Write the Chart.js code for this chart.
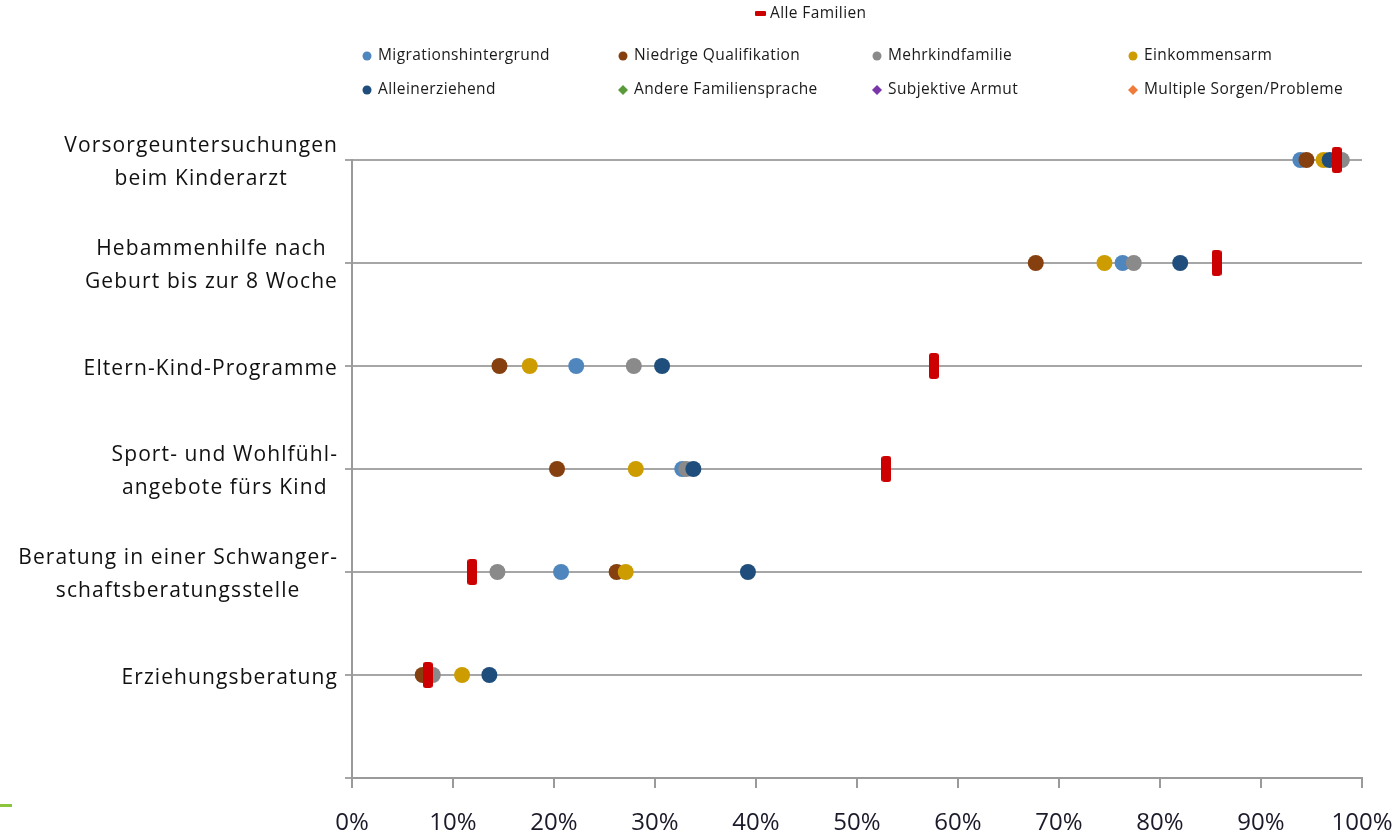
<!DOCTYPE html>
<html><head><meta charset="utf-8">
<script src="https://cdn.jsdelivr.net/npm/chart.js@4/dist/chart.umd.min.js"></script>
<style>
html,body{margin:0;padding:0;background:#fff;overflow:hidden}
#wrap{position:relative;width:1396px;height:835px}
#deco{position:absolute;left:0;top:804px;width:12px;height:3px;background:#8cc43c}
</style></head><body>
<div id="wrap"><canvas id="c" width="1396" height="835"></canvas><div id="deco"></div></div>
<script>
// ---- data ----
const categories = [
  ["Vorsorgeuntersuchungen", "beim Kinderarzt"],
  ["Hebammenhilfe nach", "Geburt bis zur 8 Woche"],
  ["Eltern-Kind-Programme"],
  ["Sport- und Wohlfühl-", "angebote fürs Kind"],
  ["Beratung in einer Schwanger-", "schaftsberatungsstelle"],
  ["Erziehungsberatung"]
];
const xTickValues = [0, 10, 20, 30, 40, 50, 60, 70, 80, 90, 100];
const xTickLabels = ["0%", "10%", "20%", "30%", "40%", "50%", "60%", "70%", "80%", "90%", "100%"];

const alleFamilien          = [97.5, 85.6, 57.6, 52.9, 11.9, 7.5];
const migrationshintergrund = [93.9, 76.3, 22.2, 32.7, 20.7, 7.5];
const niedrigeQualifikation = [94.5, 67.7, 14.6, 20.3, 26.2, 7.0];
const mehrkindfamilie       = [98.0, 77.4, 27.9, 33.1, 14.4, 8.0];
const einkommensarm         = [96.2, 74.5, 17.6, 28.1, 27.1, 10.9];
const alleinerziehend       = [96.8, 82.0, 30.7, 33.8, 39.2, 13.6];
const andereFamiliensprache = [null, null, null, null, null, null];
const subjektiveArmut       = [null, null, null, null, null, null];
const multipleSorgen        = [null, null, null, null, null, null];

// ---- series styling ----
const series = [
  {label: "Alle Familien", values: alleFamilien, color: "#cc0000", shape: "bar", order: 0},
  {label: "Migrationshintergrund", values: migrationshintergrund, color: "#4f86be", shape: "circle", order: 5},
  {label: "Niedrige Qualifikation", values: niedrigeQualifikation, color: "#86400f", shape: "circle", order: 4},
  {label: "Mehrkindfamilie", values: mehrkindfamilie, color: "#8a8a8a", shape: "circle", order: 3},
  {label: "Einkommensarm", values: einkommensarm, color: "#cc9c00", shape: "circle", order: 2},
  {label: "Alleinerziehend", values: alleinerziehend, color: "#1f4e7c", shape: "circle", order: 1},
  {label: "Andere Familiensprache", values: andereFamiliensprache, color: "#5b9a3a", shape: "diamond", order: 6},
  {label: "Subjektive Armut", values: subjektiveArmut, color: "#7a35a8", shape: "diamond", order: 7},
  {label: "Multiple Sorgen/Probleme", values: multipleSorgen, color: "#f07c3c", shape: "diamond", order: 8}
];

// legend layout (positions)
const legendSlots = [
  {x: 760, y: 14},
  {x: 367, y: 56}, {x: 623, y: 56}, {x: 877, y: 56}, {x: 1133, y: 56},
  {x: 367, y: 90}, {x: 623, y: 90}, {x: 877, y: 90}, {x: 1133, y: 90}
];

function barMarker(color, w, h, r) {
  const c = document.createElement('canvas');
  c.width = w; c.height = h;
  const g = c.getContext('2d');
  g.fillStyle = color;
  g.beginPath();
  g.roundRect(0, 0, w, h, r);
  g.fill();
  return c;
}

const N = categories.length;
const datasets = series.map(s => ({
  label: s.label,
  data: s.values.map((v, i) => v === null ? null : {x: v, y: N - i}).filter(p => p !== null),
  backgroundColor: s.color,
  borderWidth: 0,
  pointStyle: s.shape === 'bar' ? barMarker(s.color, 10, 26, 3) : (s.shape === 'diamond' ? 'rectRot' : 'circle'),
  pointRadius: s.shape === 'bar' ? 13 : 8,
  showLine: false,
  clip: false,
  order: s.order,
  _shape: s.shape
}));

const FONT = "'Open Sans', 'DejaVu Sans', sans-serif";

const catLabelPlugin = {
  id: 'catLabels',
  afterDraw(chart) {
    const ctx = chart.ctx, ys = chart.scales.y;
    ctx.save();
    ctx.font = "21px " + FONT;
    ctx.fillStyle = '#111';
    ctx.textBaseline = 'middle';
    ctx.textAlign = 'center';
    try { ctx.letterSpacing = '1.1px'; } catch (e) {}
    const right = 338, lh = 33;
    categories.forEach((lines, i) => {
      const py = ys.getPixelForValue(N - i);
      const w = Math.max(...lines.map(l => ctx.measureText(l).width));
      const cx = right - w / 2;
      const y0 = py - (lines.length - 1) * lh / 2 + 3;
      lines.forEach((l, j) => ctx.fillText(l, cx, y0 + j * lh));
    });
    ctx.restore();
  }
};

const legendPlugin = {
  id: 'customLegend',
  afterDraw(chart) {
    const ctx = chart.ctx;
    ctx.save();
    ctx.font = "15.5px " + FONT;
    try { ctx.letterSpacing = '0.4px'; } catch (e) {}
    ctx.textBaseline = 'middle';
    ctx.textAlign = 'left';
    chart.data.datasets.forEach((ds, i) => {
      const p = legendSlots[i];
      ctx.fillStyle = ds.backgroundColor;
      if (ds._shape === 'bar') {
        ctx.beginPath(); ctx.roundRect(p.x - 5, p.y - 3, 11, 5, 1); ctx.fill();
      } else if (ds._shape === 'circle') {
        ctx.beginPath(); ctx.arc(p.x, p.y, 4.5, 0, Math.PI * 2); ctx.fill();
      } else {
        ctx.beginPath(); ctx.moveTo(p.x, p.y - 5); ctx.lineTo(p.x + 5, p.y); ctx.lineTo(p.x, p.y + 5); ctx.lineTo(p.x - 5, p.y); ctx.closePath(); ctx.fill();
      }
      ctx.fillStyle = '#1a1a1a';
      ctx.fillText(ds.label, p.x + (ds._shape === 'bar' ? 10 : 11), p.y);
    });
    ctx.restore();
  }
};

new Chart(document.getElementById('c'), {
  type: 'scatter',
  data: {datasets},
  options: {
    responsive: false,
    animation: false,
    events: [],
    layout: {padding: {top: 160, right: 34, left: 0, bottom: 0}},
    plugins: {legend: {display: false}, tooltip: {enabled: false}},
    scales: {
      x: {
        type: 'linear', position: 'bottom', min: 0, max: 100,
        afterBuildTicks: (s) => { s.ticks = xTickValues.map(v => ({value: v})); },
        afterFit: (s) => { s.height = 57; s.paddingRight = 0; s.paddingLeft = 0; },
        ticks: {
          callback: (v) => xTickLabels[xTickValues.indexOf(v)],
          font: {family: FONT, size: 24}, color: '#1a1a2a', padding: 21, maxRotation: 0
        },
        grid: {drawOnChartArea: false, drawTicks: true, tickLength: 10, color: '#9a9a9a', lineWidth: 2},
        border: {color: '#9a9a9a', width: 2}
      },
      y: {
        type: 'linear', min: 0, max: 6,
        afterFit: (s) => { s.width = 352; s.paddingTop = 0; s.paddingBottom = 0; },
        ticks: {stepSize: 1, callback: () => ''},
        grid: {drawTicks: true, tickLength: 7, color: '#a6a6a6', lineWidth: 2},
        border: {color: '#9a9a9a', width: 2}
      }
    }
  },
  plugins: [catLabelPlugin, legendPlugin]
});
</script>
</body></html>
